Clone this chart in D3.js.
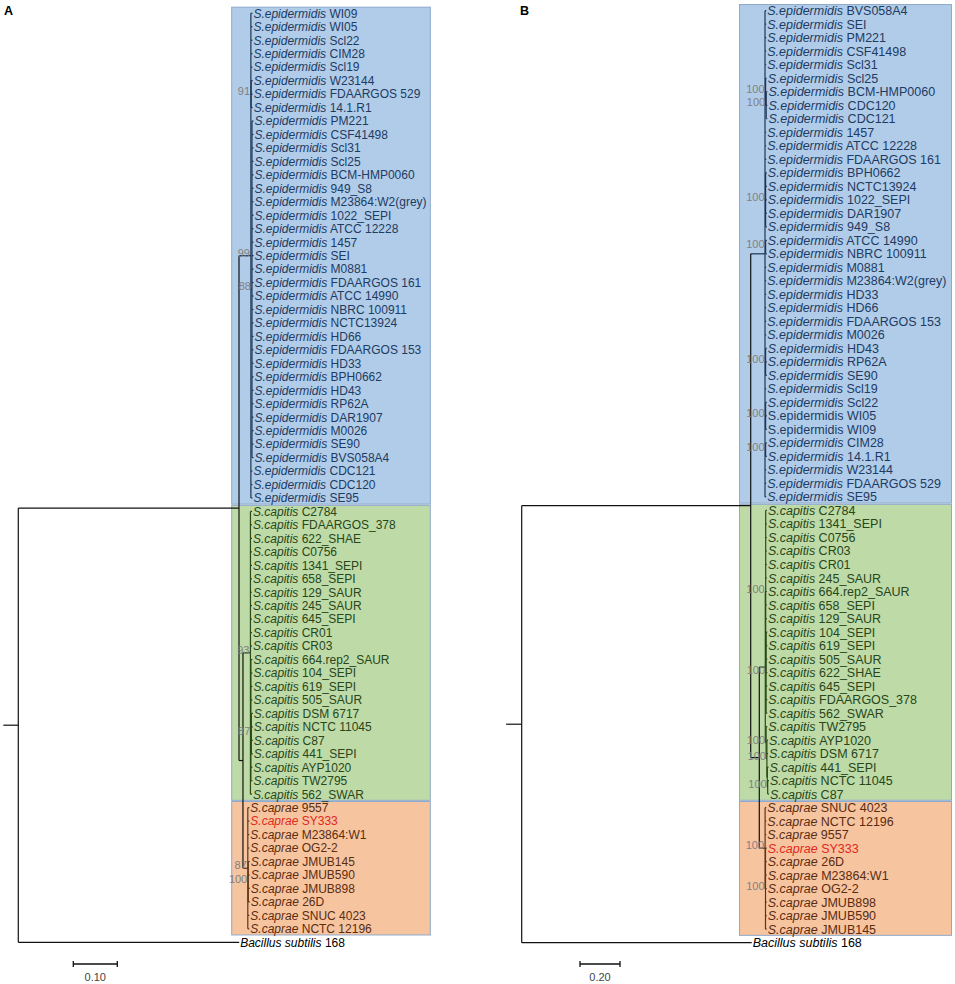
<!DOCTYPE html>
<html>
<head>
<meta charset="utf-8">
<script src="https://cdn.jsdelivr.net/npm/d3@7"></script>
<style>
  body { margin: 0; background: #fff; }
  svg { display: block; font-family: "Liberation Sans", Arial, sans-serif; }
</style>
</head>
<body>
<svg id="chart" width="955" height="984"></svg>
<script>
// ---- Leaf names (strain part), top to bottom as drawn ----

// Panel A
const epidA = ["WI09", "WI05", "Scl22", "CIM28", "Scl19", "W23144", "FDAARGOS 529", "14.1.R1",
  "PM221", "CSF41498", "Scl31", "Scl25", "BCM-HMP0060", "949_S8", "M23864:W2(grey)", "1022_SEPI",
  "ATCC 12228", "1457", "SEI", "M0881", "FDAARGOS 161", "ATCC 14990", "NBRC 100911", "NCTC13924",
  "HD66", "FDAARGOS 153", "HD33", "BPH0662", "HD43", "RP62A", "DAR1907", "M0026", "SE90",
  "BVS058A4", "CDC121", "CDC120", "SE95"];
const capitisA = ["C2784", "FDAARGOS_378", "622_SHAE", "C0756", "1341_SEPI", "658_SEPI", "129_SAUR",
  "245_SAUR", "645_SEPI", "CR01", "CR03", "664.rep2_SAUR", "104_SEPI", "619_SEPI", "505_SAUR",
  "DSM 6717", "NCTC 11045", "C87", "441_SEPI", "AYP1020", "TW2795", "562_SWAR"];
const capraeA = ["9557", "SY333", "M23864:W1", "OG2-2", "JMUB145", "JMUB590", "JMUB898", "26D",
  "SNUC 4023", "NCTC 12196"];

// Panel B
const epidB = ["BVS058A4", "SEI", "PM221", "CSF41498", "Scl31", "Scl25", "BCM-HMP0060", "CDC120",
  "CDC121", "1457", "ATCC 12228", "FDAARGOS 161", "BPH0662", "NCTC13924", "1022_SEPI", "DAR1907",
  "949_S8", "ATCC 14990", "NBRC 100911", "M0881", "M23864:W2(grey)", "HD33", "HD66",
  "FDAARGOS 153", "M0026", "HD43", "RP62A", "SE90", "Scl19", "Scl22", "WI05", "WI09", "CIM28",
  "14.1.R1", "W23144", "FDAARGOS 529", "SE95"];
const capitisB = ["C2784", "1341_SEPI", "C0756", "CR03", "CR01", "245_SAUR", "664.rep2_SAUR",
  "658_SEPI", "129_SAUR", "104_SEPI", "619_SEPI", "505_SAUR", "622_SHAE", "645_SEPI",
  "FDAARGOS_378", "562_SWAR", "TW2795", "AYP1020", "DSM 6717", "441_SEPI", "NCTC 11045", "C87"];
const capraeB = ["SNUC 4023", "NCTC 12196", "9557", "SY333", "26D", "M23864:W1", "OG2-2",
  "JMUB898", "JMUB590", "JMUB145"];

const outgroup = ["168"];
const highlighted = ["SY333"];
const uprightB = ["WI05", "WI09"];   // species name not set in italics in panel B

// ---- Topologies: leaf tokens e/c/p/o + index, internal labels = bootstrap, :branch length ----
const treeA = "(((" +
  "e0,e1,e2,e3,e4,(e5,e6,e7)91:.0005," +
  "(e8,e9,e10,e11,e12,e13,e14,e15,e16,e17,e18,e19,e20,e21,e22,e23,e24,e25,e26,e27,e28,e29,e30,e31,e32,e33)88:.0025," +
  "e34,e35,e36)99:.027," +
  "((c0,c1,c2,c3,c4,c5,c6,c7,c8,c9,c10,(c11,c12,c13,c14,(c15,c16,c17,c18)87:.001,c19,c20):.001,c21)93:.017," +
  "(p0,p1,p2,p3,(p4,p5,p6,p7)100:.001,p8,p9)87:.011):.009" +
  "):.5016,o0:.502)";

const treeB = "(((" +
  "e0,e1,e2,e3,e4,(e5,(e6,e7,e8)100:.003)100:.003,e9,e10,e11,(e12,e13,e14,e15,e16)100:.003," +
  "(e17,e18)100:.003,e19,e20,e21,e22,e23,e24,(e25,e26,e27)100:.003,e28,(e29,e30,e31)100:.003," +
  "(e32,e33)100:.003,e34,e35,e36):.0715," +
  "(((c0,c1,c2,c3,c4,c5,c6,c7,c8,(c9,c10,c11,c12,c13,c14,c15)100:.002)100:.002," +
  "(c16,(c17,c18,(c19,(c20,c21)100:.002):.002)100:.004)100:.004):.03," +
  "(p0,p1,p2,(p3,p4,p5,p6,p7,p8,p9)100:.002)100:.029):.043" +
  "):1.145,o0:1.15)";

const rootEdgeA = 0.034;
const rootEdgeB = 0.078;
const scaleBarA = 0.10;
const scaleBarB = 0.20;

// ---- Styles per clade ----
const clades = {
  e: { species: "S.epidermidis", text: "#1e3b62", line: "#1b3457", fill: "#b0cce9" },
  c: { species: "S.capitis", text: "#27461a", line: "#294a17", fill: "#bedaa7" },
  p: { species: "S.caprae", text: "#5a2c10", line: "#5e3415", fill: "#f7c4a0" },
  o: { species: "Bacillus subtilis", text: "#000", line: "#111" },
  k: { line: "#111" }
};

const svg = d3.select("#chart");

// Newick-like parser
function parseTree(str, leafLen) {
  let i = 0;
  function read() {
    const n = {};
    if (str[i] === "(") {
      n.children = [];
      do { i++; n.children.push(read()); } while (str[i] === ",");
      i++;
    }
    let name = "";
    while (i < str.length && !"(),:".includes(str[i])) name += str[i++];
    let len = null;
    if (str[i] === ":") {
      i++;
      let t = "";
      while (i < str.length && !"(),".includes(str[i])) t += str[i++];
      len = +t;
    }
    if (n.children) {
      n.support = name;
      n.length = len == null ? 0 : len;
    } else {
      n.clade = name[0];
      n.idx = +name.slice(1);
      n.length = len == null ? leafLen : len;
    }
    return n;
  }
  return read();
}

function drawPanel(cfg) {
  const g = svg.append("g");
  const root = d3.hierarchy(parseTree(cfg.tree, cfg.leafLen));

  root.each(d => { d.dist = d.parent ? d.parent.dist + d.data.length : 0; });

  const leaves = root.leaves();
  const yS = d3.scaleLinear().domain([0, leaves.length - 1]).range([cfg.yTop, cfg.yBottom]);
  const xS = d3.scaleLinear().domain([0, 1]).range([cfg.x0, cfg.x0 + cfg.pxPerUnit]);
  const step = yS(1) - yS(0);

  leaves.forEach((d, i) => { d.order = i; d.py = yS(i); });
  root.eachAfter(d => {
    if (d.children) {
      d.py = (d.children[0].py + d.children[d.children.length - 1].py) / 2;
      const c0 = d.children[0].clade;
      d.clade = d.children.every(c => c.clade === c0) ? c0 : "k";
    } else {
      d.clade = d.data.clade;
    }
    d.px = xS(d.dist);
  });

  // Clade boxes
  ["e", "c", "p"].forEach(k => {
    const ls = leaves.filter(d => d.clade === k);
    const first = d3.min(ls, d => d.order), last = d3.max(ls, d => d.order);
    g.append("rect")
      .attr("x", cfg.boxX[0])
      .attr("y", yS(first) - step / 2 + 0.6)
      .attr("width", cfg.boxX[1] - cfg.boxX[0])
      .attr("height", (last - first + 1) * step - 1.2)
      .attr("fill", clades[k].fill)
      .attr("stroke", "#8ea9cb")
      .attr("stroke-width", 1);
  });

  const lines = g.append("g").attr("fill", "none").attr("stroke-width", 1.2);

  // Horizontal branches
  lines.selectAll(".h")
    .data(root.descendants().filter(d => d.parent))
    .join("line")
      .attr("x1", d => d.parent.px)
      .attr("x2", d => d.px)
      .attr("y1", d => d.py)
      .attr("y2", d => d.py)
      .attr("stroke", d => clades[d.clade].line);

  // Vertical connectors
  lines.selectAll(".v")
    .data(root.descendants().filter(d => d.children))
    .join("line")
      .attr("x1", d => d.px)
      .attr("x2", d => d.px)
      .attr("y1", d => d.children[0].py)
      .attr("y2", d => d.children[d.children.length - 1].py)
      .attr("stroke", d => clades[d.clade].line);

  // Root stub
  lines.append("line")
    .attr("x1", xS(-cfg.rootEdge)).attr("x2", root.px)
    .attr("y1", root.py).attr("y2", root.py)
    .attr("stroke", "#111");

  // Leaf labels
  const names = { e: cfg.epid, c: cfg.capitis, p: cfg.caprae, o: outgroup };
  const labels = g.selectAll(".leaf")
    .data(leaves)
    .join("text")
      .attr("x", d => d.px + 1)
      .attr("y", d => d.py)
      .attr("dy", "0.36em")
      .attr("font-size", cfg.fontSize)
      .attr("fill", d => highlighted.includes(names[d.clade][d.data.idx]) ? "#e0281c" : clades[d.clade].text);

  labels.append("tspan")
    .attr("font-style", d => cfg.upright.includes(names[d.clade][d.data.idx]) ? "normal" : "italic")
    .text(d => clades[d.clade].species);
  labels.append("tspan")
    .text(d => " " + names[d.clade][d.data.idx]);

  // Bootstrap values
  g.selectAll(".boot")
    .data(root.descendants().filter(d => d.children && d.data.support))
    .join("text")
      .attr("x", d => d.px - 1)
      .attr("y", d => d.py + 1)
      .attr("text-anchor", "end")
      .attr("font-size", 11)
      .attr("fill", "#808080")
      .text(d => d.data.support);

  // Scale bar
  const sb = g.append("g").attr("stroke", "#111").attr("stroke-width", 1.3);
  const bx0 = cfg.scaleX, bx1 = cfg.scaleX + (xS(cfg.scaleLen) - xS(0));
  sb.append("line").attr("x1", bx0).attr("x2", bx1).attr("y1", 964).attr("y2", 964);
  sb.append("line").attr("x1", bx0).attr("x2", bx0).attr("y1", 961).attr("y2", 967);
  sb.append("line").attr("x1", bx1).attr("x2", bx1).attr("y1", 961).attr("y2", 967);
  g.append("text")
    .attr("x", (bx0 + bx1) / 2)
    .attr("y", 981)
    .attr("text-anchor", "middle")
    .attr("font-size", 11)
    .attr("fill", "#444")
    .text(d3.format(".2f")(cfg.scaleLen));

  // Panel letter
  g.append("text")
    .attr("x", cfg.letterX)
    .attr("y", 15)
    .attr("font-size", 12.5)
    .attr("font-weight", "bold")
    .attr("fill", "#000")
    .text(cfg.letter);
}

drawPanel({
  tree: treeA, leafLen: 0.0035, epid: epidA, capitis: capitisA, caprae: capraeA,
  x0: 18.3, pxPerUnit: 440, yTop: 13.3, yBottom: 942.3, boxX: [231.7, 430.3],
  rootEdge: rootEdgeA, scaleLen: scaleBarA, scaleX: 73.3, letter: "A", letterX: 4,
  fontSize: 12, upright: []
});

drawPanel({
  tree: treeB, leafLen: 0.006, epid: epidB, capitis: capitisB, caprae: capraeB,
  x0: 521.7, pxPerUnit: 200, yTop: 10.7, yBottom: 942.7, boxX: [739.5, 951.5],
  rootEdge: rootEdgeB, scaleLen: scaleBarB, scaleX: 580, letter: "B", letterX: 520,
  fontSize: 12.5, upright: uprightB
});
</script>
</body>
</html>
